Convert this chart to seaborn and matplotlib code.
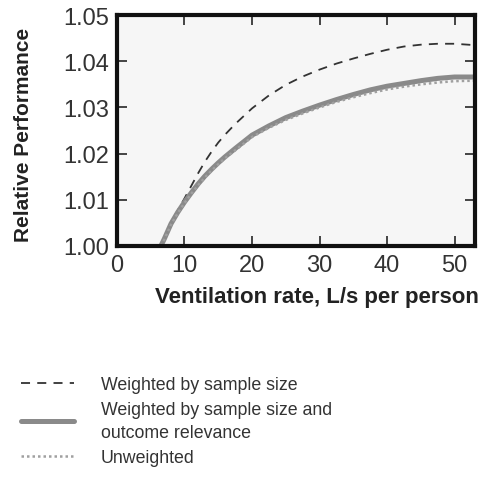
import pandas as pd
import matplotlib.pyplot as plt
import seaborn as sns

# ===============================
# Data
# ===============================
vent_rate = [6.5, 7, 8, 9, 10, 11, 12, 13, 14, 15, 16, 17.5, 20, 22.5, 25, 27.5,
             30, 32.5, 35, 37.5, 40, 42.5, 45, 47.5, 50, 53]
weighted_size = [1.0000, 1.0015, 1.0050, 1.0077, 1.0103, 1.0130, 1.0157, 1.0182,
                 1.0204, 1.0224, 1.0241, 1.0264, 1.0298, 1.0326, 1.0349, 1.0367,
                 1.0382, 1.0395, 1.0406, 1.0416, 1.0425, 1.0432, 1.0436, 1.0438,
                 1.0438, 1.0435]
weighted_size_rel = [1.0000, 1.0015, 1.0048, 1.0073, 1.0095, 1.0115, 1.0134, 1.0151,
                     1.0166, 1.0180, 1.0193, 1.0211, 1.0240, 1.0260, 1.0278, 1.0292,
                     1.0305, 1.0317, 1.0328, 1.0338, 1.0346, 1.0352, 1.0358, 1.0363,
                     1.0366, 1.0366]
unweighted = [1.0000, 1.0014, 1.0046, 1.0071, 1.0093, 1.0113, 1.0131, 1.0148,
              1.0163, 1.0177, 1.0190, 1.0207, 1.0236, 1.0256, 1.0273, 1.0287,
              1.0300, 1.0312, 1.0322, 1.0331, 1.0339, 1.0345, 1.0350, 1.0354,
              1.0357, 1.0358]

labels = ['Weighted by sample size',
          'Weighted by sample size and\noutcome relevance',
          'Unweighted']

sns.set_style('ticks')
plt.rcParams['font.family'] = ['Liberation Sans', 'DejaVu Sans']

fig = plt.figure(figsize=(4.84, 4.89), dpi=100)
fig.patch.set_facecolor('white')
ax = fig.add_axes([0.2417, 0.495, 0.7393, 0.472])
ax.set_facecolor('#f6f6f6')

# ===============================
# Curves
# ===============================
sns.lineplot(x=vent_rate, y=weighted_size, ax=ax, color='#333333', lw=1.3,
             linestyle=(0, (5, 4)), label=labels[0])
sns.lineplot(x=vent_rate, y=weighted_size_rel, ax=ax, color='#8a8a8a', lw=3.6,
             label=labels[1])
sns.lineplot(x=vent_rate, y=unweighted, ax=ax, color='#a0a0a0', lw=1.8,
             linestyle=(0, (1, 1.2)), label=labels[2])

ax.set_xlim(0, 53)
ax.set_ylim(1.0, 1.05)
ax.set_xticks([0, 10, 20, 30, 40, 50])
ax.set_yticks([1.00, 1.01, 1.02, 1.03, 1.04, 1.05])
ax.set_yticklabels(['1.00', '1.01', '1.02', '1.03', '1.04', '1.05'])

for s in ax.spines.values():
    s.set_linewidth(3)
    s.set_color('#111111')
ax.tick_params(direction='in', length=7, width=1.2, top=True, right=True,
               labelsize=17, labelcolor='#333333', pad=6)

ax.set_xlabel('Ventilation rate, L/s per person', fontsize=16, fontweight='bold',
              color='#222222')
ax.set_ylabel('Relative Performance', fontsize=15, fontweight='bold',
              color='#222222')
ax.xaxis.set_label_coords(0.56, -0.175)
ax.yaxis.set_label_coords(-0.235, 0.485)

# ===============================
# Legend below the plot
# ===============================
handles, lbls = ax.get_legend_handles_labels()
ax.get_legend().remove()
leg = fig.legend(handles, lbls, loc='upper left', bbox_to_anchor=(0.01, 0.262),
                 frameon=False, fontsize=12.8, handlelength=3.0, handletextpad=1.5,
                 labelspacing=0.45, labelcolor='#333333')
for t in leg.get_texts():
    t.set_linespacing(1.45)

plt.savefig('out.png', dpi=100)
plt.close()
